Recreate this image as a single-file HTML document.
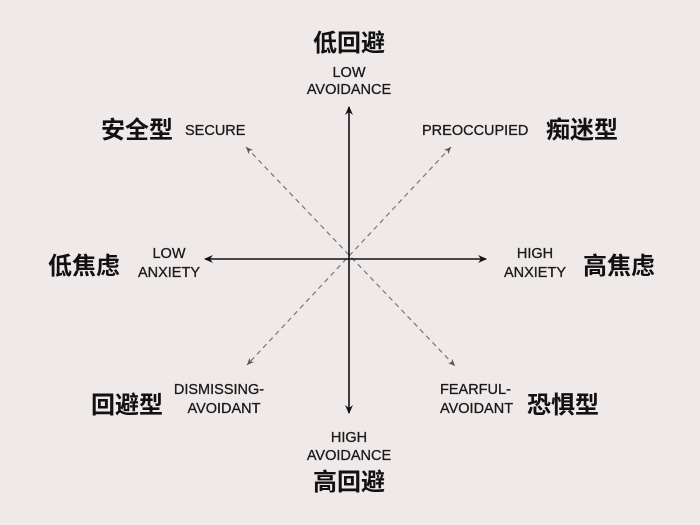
<!DOCTYPE html>
<html><head><meta charset="utf-8"><style>
html,body{margin:0;padding:0;background:#efe9e9;}
svg{display:block}
.cn{font-family:"Liberation Sans","Noto Sans CJK SC",sans-serif;font-weight:bold;font-size:24px;fill:#111}
.en{font-family:"Liberation Sans",sans-serif;font-size:14.5px;fill:#1a1a1a;stroke:#1a1a1a;stroke-width:0.3}
</style></head><body>
<svg width="700" height="525" viewBox="0 0 700 525" xmlns="http://www.w3.org/2000/svg">
<defs>
<marker id="a" markerWidth="10" markerHeight="10" refX="8" refY="5" orient="auto" markerUnits="userSpaceOnUse"><path d="M0,1 L9,5 L0,9 L3,5 Z" fill="#111"/></marker>
<marker id="b" markerWidth="8" markerHeight="8" refX="7" refY="4" orient="auto-start-reverse" markerUnits="userSpaceOnUse"><path d="M0,1 L7,4 L0,7 L2,4 Z" fill="#555"/></marker>
</defs>
<rect width="700" height="525" fill="#efe9e9"/>
<line x1="246" y1="147" x2="455" y2="366" stroke="#777" stroke-width="1.2" stroke-dasharray="5,4" marker-start="url(#b)" marker-end="url(#b)"/>
<line x1="451" y1="147" x2="247" y2="365" stroke="#777" stroke-width="1.2" stroke-dasharray="5,4" marker-start="url(#b)" marker-end="url(#b)"/>
<line x1="349" y1="258" x2="349" y2="107" stroke="#111" stroke-width="1.6" marker-end="url(#a)"/>
<line x1="349" y1="258" x2="349" y2="413" stroke="#111" stroke-width="1.6" marker-end="url(#a)"/>
<line x1="349" y1="259" x2="205" y2="259" stroke="#111" stroke-width="1.6" marker-end="url(#a)"/>
<line x1="349" y1="259" x2="486" y2="259" stroke="#111" stroke-width="1.6" marker-end="url(#a)"/>

<text class="cn" x="349" y="51" text-anchor="middle">低回避</text>
<text class="en" x="349" y="77" text-anchor="middle">LOW</text>
<text class="en" x="349" y="94" text-anchor="middle">AVOIDANCE</text>

<text class="en" x="349" y="442" text-anchor="middle">HIGH</text>
<text class="en" x="349" y="460" text-anchor="middle">AVOIDANCE</text>
<text class="cn" x="349" y="490" text-anchor="middle">高回避</text>

<text class="cn" x="101" y="138">安全型</text>
<text class="en" x="185" y="135">SECURE</text>

<text class="en" x="422" y="135">PREOCCUPIED</text>
<text class="cn" x="546" y="138">痴迷型</text>

<text class="cn" x="48" y="274">低焦虑</text>
<text class="en" x="169" y="258" text-anchor="middle">LOW</text>
<text class="en" x="169" y="277" text-anchor="middle">ANXIETY</text>

<text class="en" x="535" y="258" text-anchor="middle">HIGH</text>
<text class="en" x="535" y="277" text-anchor="middle">ANXIETY</text>
<text class="cn" x="583" y="274">高焦虑</text>

<text class="cn" x="91" y="413">回避型</text>
<text class="en" x="219" y="394" text-anchor="middle">DISMISSING-</text>
<text class="en" x="224" y="413" text-anchor="middle">AVOIDANT</text>

<text class="en" x="440" y="394">FEARFUL-</text>
<text class="en" x="440" y="413">AVOIDANT</text>
<text class="cn" x="527" y="413">恐惧型</text>
</svg>
</body></html>
